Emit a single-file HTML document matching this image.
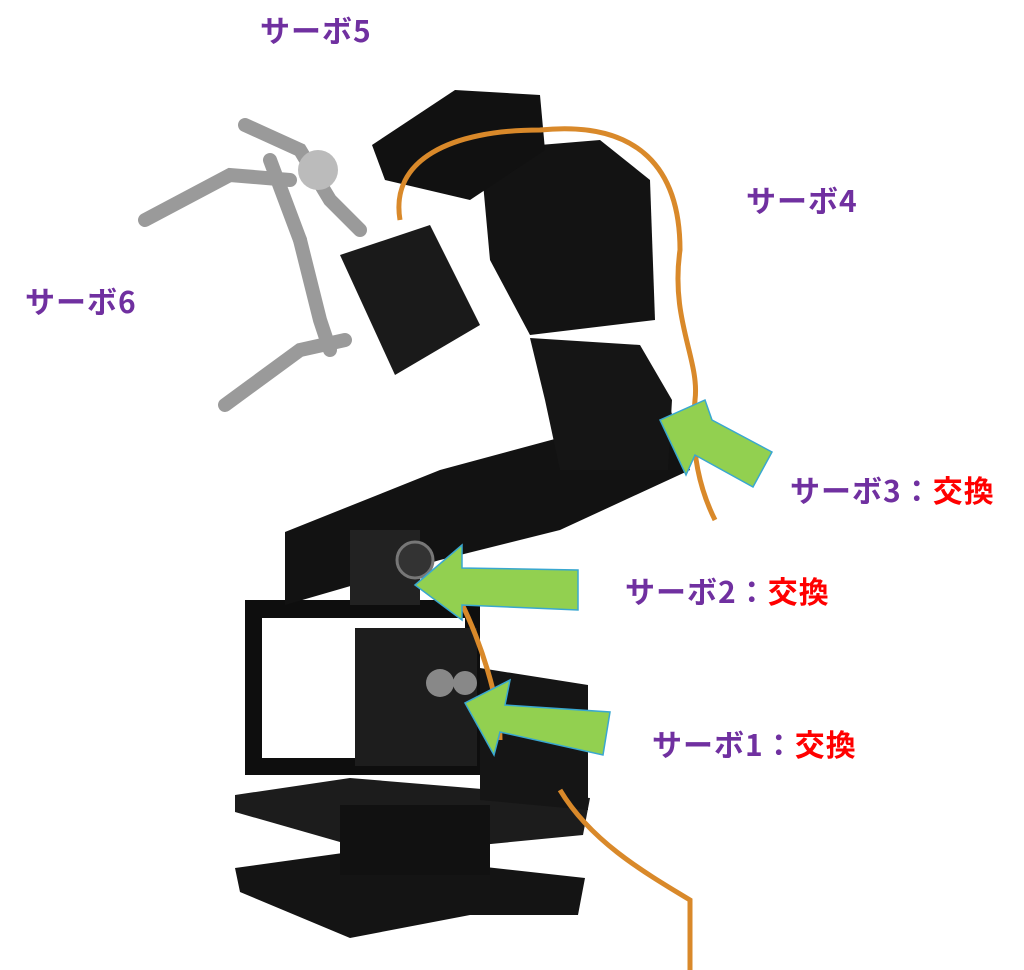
<!DOCTYPE html>
<html><head><meta charset="utf-8"><style>
html,body{margin:0;padding:0;background:#fff;}
body{width:1024px;height:970px;position:relative;overflow:hidden;font-family:"Noto Sans CJK JP","Liberation Sans",sans-serif;}
.l{position:absolute;font-size:30px;font-weight:bold;color:#7030A0;white-space:nowrap;line-height:1;letter-spacing:1px;}
.r{color:#FF0000;}
svg{position:absolute;left:0;top:0;}
</style></head><body>
<svg width="1024" height="970" viewBox="0 0 1024 970">
<polygon points="235,868 350,852 585,878 578,915 470,915 350,938 240,892" fill="#141414"/>
<polygon points="235,795 350,778 590,798 583,835 470,846 340,842 235,812" fill="#1c1c1c"/>
<rect x="340" y="805" width="150" height="70" fill="#111"/>
<path d="M245,600 H480 V775 H245 Z M262,618 V758 H465 V618 Z" fill="#0e0e0e" fill-rule="evenodd"/>
<polygon points="480,668 588,685 588,810 480,800" fill="#151515"/>
<rect x="355" y="628" width="122" height="138" fill="#1d1d1d"/>
<circle cx="440" cy="683" r="14" fill="#888"/><circle cx="465" cy="683" r="12" fill="#888"/>
<polygon points="285,532 440,470 670,408 690,470 560,530 440,560 285,605" fill="#121212"/>
<rect x="350" y="530" width="70" height="75" fill="#222"/>
<circle cx="415" cy="560" r="18" fill="#333" stroke="#777" stroke-width="3"/>
<polygon points="530,338 640,345 672,400 668,470 560,470 545,400" fill="#151515"/>
<polygon points="480,150 600,140 650,180 655,320 530,335 490,260" fill="#131313"/>
<polygon points="372,145 455,90 540,95 545,150 470,200 385,180" fill="#111"/>
<polygon points="340,255 430,225 480,325 395,375" fill="#1a1a1a"/>
<g stroke="#9a9a9a" stroke-width="14" fill="none" stroke-linecap="round">
<path d="M245,125 L300,150 L330,200 L360,230"/>
<path d="M145,220 L230,175 L290,180"/>
<path d="M225,405 L300,350 L345,340"/>
<path d="M300,240 L320,320 L330,350"/>
<path d="M270,160 L300,240"/>
</g>
<circle cx="318" cy="170" r="20" fill="#bbb"/>
<path d="M400,220 C390,160 450,130 540,130 C640,120 680,170 680,250 C670,320 700,360 695,400 C690,450 700,490 715,520" stroke="#d9892a" stroke-width="5" fill="none"/>
<path d="M460,600 C480,640 500,700 500,740 M560,790 C590,840 640,870 690,900 L690,970" stroke="#d9892a" stroke-width="5" fill="none"/>
<polygon points="610,712 603,755 500,732 494,755 465,703 510,680 505,705" fill="#92D050" stroke="#39a7d0" stroke-width="1.5"/>
<polygon points="578,570 578,610 462,605 462,620 415,585 462,545 462,568" fill="#92D050" stroke="#39a7d0" stroke-width="1.5"/>
<polygon points="772,452 753,487 695,455 686,475 660,420 705,400 712,420" fill="#92D050" stroke="#39a7d0" stroke-width="1.5"/>
</svg>
<div class="l" style="left:260px;top:14px">サーボ5</div>
<div class="l" style="left:746px;top:184px">サーボ4</div>
<div class="l" style="left:25px;top:285px">サーボ6</div>
<div class="l" style="left:790px;top:474px">サーボ3：<span class="r">交換</span></div>
<div class="l" style="left:625px;top:575px">サーボ2：<span class="r">交換</span></div>
<div class="l" style="left:652px;top:728px">サーボ1：<span class="r">交換</span></div>
</body></html>
